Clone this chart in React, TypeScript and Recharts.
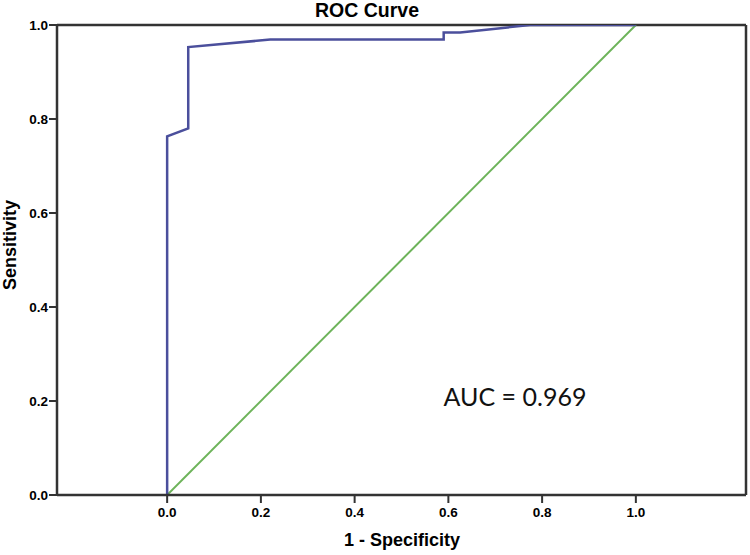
import React from 'react';
import { LineChart, Line, XAxis, YAxis, ReferenceLine } from 'recharts';

// ROC curve (1 - specificity, sensitivity)
const rocFpr = [0, 0, 0.045, 0.045, 0.22, 0.59, 0.59, 0.625, 0.774, 1.0];
const rocTpr = [0, 0.763, 0.78, 0.953, 0.969, 0.969, 0.984, 0.984, 1.0, 1.0];
// Reference (chance) diagonal
const refFpr = [0, 1];
const refTpr = [0, 1];
const xTicks = [0, 0.2, 0.4, 0.6, 0.8, 1.0];
const yTicks = [0, 0.2, 0.4, 0.6, 0.8, 1.0];
const xDomain = [-0.235, 1.235];
const titleText = 'ROC Curve';
const xLabelText = '1 - Specificity';
const yLabelText = 'Sensitivity';
const aucText = 'AUC = 0.969';

const rocData = rocFpr.map((x, i) => ({ x, y: rocTpr[i] }));
const refData = refFpr.map((x, i) => ({ x, y: refTpr[i] }));

const AXIS = '#333333';
const FONT = '"Liberation Sans", Arial, sans-serif';
const tickStyle = { fill: '#000', fontSize: 13.5, fontWeight: 700, fontFamily: FONT };

export default function App() {
  return (
    <div style={{ position: 'absolute', left: 0, top: 0, width: 750, height: 555, background: '#fff' }}>
      <LineChart
        width={750}
        height={555}
        margin={{ top: 25, right: 4, bottom: 0, left: 0 }}
        style={{ fontFamily: FONT }}
      >
        <XAxis
          type="number"
          dataKey="x"
          domain={xDomain}
          ticks={xTicks}
          allowDataOverflow
          tickFormatter={(v: number) => v.toFixed(1)}
          height={60}
          tickSize={8}
          tickMargin={4}
          stroke={AXIS}
          strokeWidth={2.5}
          tick={tickStyle}
          tickLine={{ stroke: AXIS, strokeWidth: 2 }}
        />
        <YAxis
          type="number"
          dataKey="y"
          domain={[0, 1]}
          ticks={yTicks}
          allowDataOverflow
          tickFormatter={(v: number) => v.toFixed(1)}
          width={57}
          tickSize={8}
          tickMargin={1}
          stroke={AXIS}
          strokeWidth={2.5}
          tick={tickStyle}
          tickLine={{ stroke: AXIS, strokeWidth: 2 }}
        />
        <ReferenceLine y={1} stroke={AXIS} strokeWidth={2.5} />
        <ReferenceLine x={xDomain[1]} stroke={AXIS} strokeWidth={2.5} />
        <Line
          data={refData}
          dataKey="y"
          type="linear"
          stroke="#6db35a"
          strokeWidth={2}
          dot={false}
          activeDot={false}
          isAnimationActive={false}
        />
        <Line
          data={rocData}
          dataKey="y"
          type="linear"
          stroke="#4b4f9c"
          strokeWidth={2.5}
          dot={false}
          activeDot={false}
          isAnimationActive={false}
        />
        <text x={367} y={17} textAnchor="middle" fontFamily={FONT} fontWeight={700} fontSize={19.5} fill="#000">
          {titleText}
        </text>
        <text x={402} y={546} textAnchor="middle" fontFamily={FONT} fontWeight={700} fontSize={18} fill="#000">
          {xLabelText}
        </text>
        <text
          x={0}
          y={0}
          transform="translate(16,245) rotate(-90)"
          textAnchor="middle"
          fontFamily={FONT}
          fontWeight={700}
          fontSize={18}
          fill="#000"
        >
          {yLabelText}
        </text>
        <text x={515} y={406} textAnchor="middle" fontFamily="Lato, sans-serif" fontSize={25} fill="#111">
          {aucText}
        </text>
      </LineChart>
    </div>
  );
}
